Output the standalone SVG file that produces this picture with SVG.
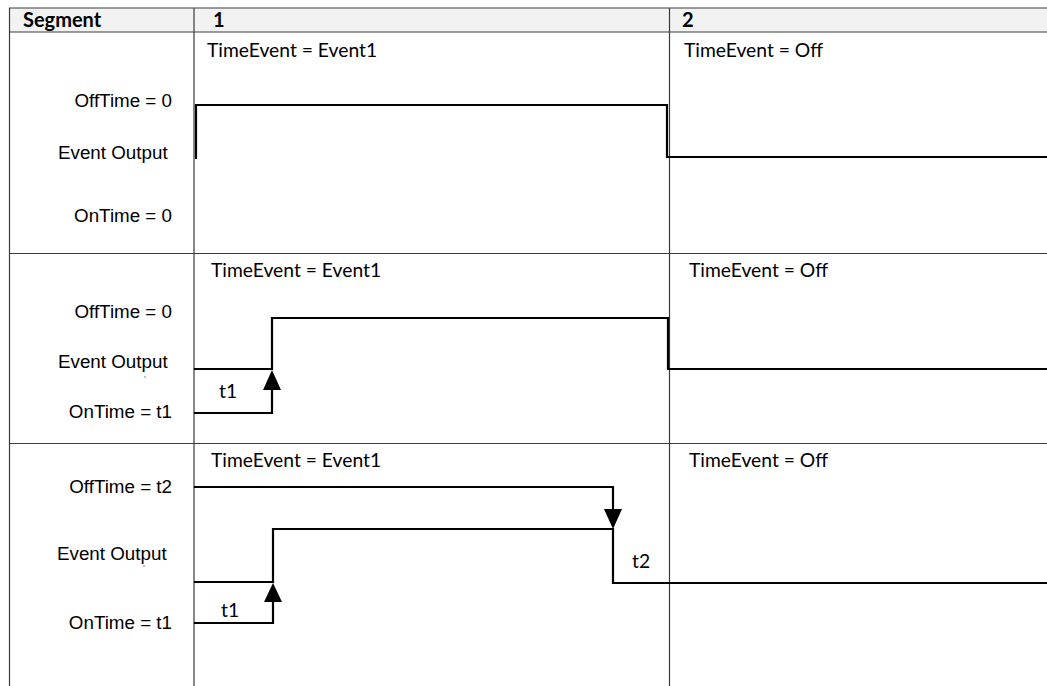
<svg xmlns="http://www.w3.org/2000/svg" width="1047" height="686" viewBox="0 0 1047 686">
<style>
.grid{stroke:#3a3a3a;stroke-width:1.2;fill:none}
.sig{stroke:#000;stroke-width:2.2;fill:none;stroke-linejoin:miter}
.lbl{font-family:"Liberation Sans",Arial,sans-serif;font-size:18.8px;fill:#000}
.cal{font-family:Lato,"Open Sans",sans-serif;font-size:19.3px;fill:#000}
.hdr{font-family:Lato,"Open Sans",sans-serif;font-size:20px;font-weight:bold;fill:#000}
</style>
<rect width="1047" height="686" fill="#fff"/>
<g id="table">
<rect x="9" y="8" width="1040" height="24" fill="#f2f2f2"/>
<line class="grid" x1="9" y1="8" x2="1047" y2="8"/>
<line class="grid" x1="9" y1="32" x2="1047" y2="32"/>
<line class="grid" x1="9" y1="253.5" x2="1047" y2="253.5"/>
<line class="grid" x1="9" y1="443.5" x2="1047" y2="443.5"/>
<line class="grid" x1="9.5" y1="8" x2="9.5" y2="686"/>
<line class="grid" x1="194" y1="8" x2="194" y2="686"/>
<line class="grid" x1="669.5" y1="8" x2="669.5" y2="686"/>
<text class="hdr" x="23" y="26.5">Segment</text>
<text class="hdr" x="213" y="26.5">1</text>
<text class="hdr" x="682" y="26.5">2</text>
</g>
<g id="row1">
<text class="cal" x="207" y="57">TimeEvent = Event1</text>
<text class="cal" x="684" y="57">TimeEvent = Off</text>
<text class="lbl" x="172" y="107" text-anchor="end">OffTime = 0</text>
<text class="lbl" x="58" y="159">Event Output</text>
<text class="lbl" x="172" y="222" text-anchor="end">OnTime = 0</text>
</g>
<g id="row2">
<text class="cal" x="211" y="277">TimeEvent = Event1</text>
<text class="cal" x="689" y="277">TimeEvent = Off</text>
<text class="lbl" x="172" y="318" text-anchor="end">OffTime = 0</text>
<text class="lbl" x="58" y="368">Event Output</text>
<circle cx="145" cy="377" r="0.7" fill="#555"/>
<text class="lbl" x="172" y="418" text-anchor="end">OnTime = t1</text>
<text class="cal" x="219" y="398">t1</text>
</g>
<g id="row3">
<text class="cal" x="211" y="467">TimeEvent = Event1</text>
<text class="cal" x="689" y="467">TimeEvent = Off</text>
<text class="lbl" x="172" y="493" text-anchor="end">OffTime = t2</text>
<text class="lbl" x="57" y="560">Event Output</text>
<circle cx="144" cy="566" r="0.7" fill="#555"/>
<text class="lbl" x="172" y="629" text-anchor="end">OnTime = t1</text>
<text class="cal" x="221" y="617">t1</text>
<text class="cal" x="632" y="568">t2</text>
</g>
<g id="connectors">
<polyline class="sig" points="196,159 196,105 667,105 667,157 1047,157"/>
<polyline class="sig" points="194,369 272,369 272,318 668,318 668,369 1047,369"/>
<polyline class="sig" points="194,413 272,413 272,389"/>
<path d="M272,370 L281,390 L263,390 z" fill="#000"/>
<polyline class="sig" points="194,582 273,582 273,529 613,529 613,583 1047,583"/>
<polyline class="sig" points="194,623 273,623 273,601"/>
<path d="M273,583 L282,602 L264,602 z" fill="#000"/>
<polyline class="sig" points="194,487 613,487 613,510"/>
<path d="M613,529 L622,509 L604,509 z" fill="#000"/>
</g>
</svg>
